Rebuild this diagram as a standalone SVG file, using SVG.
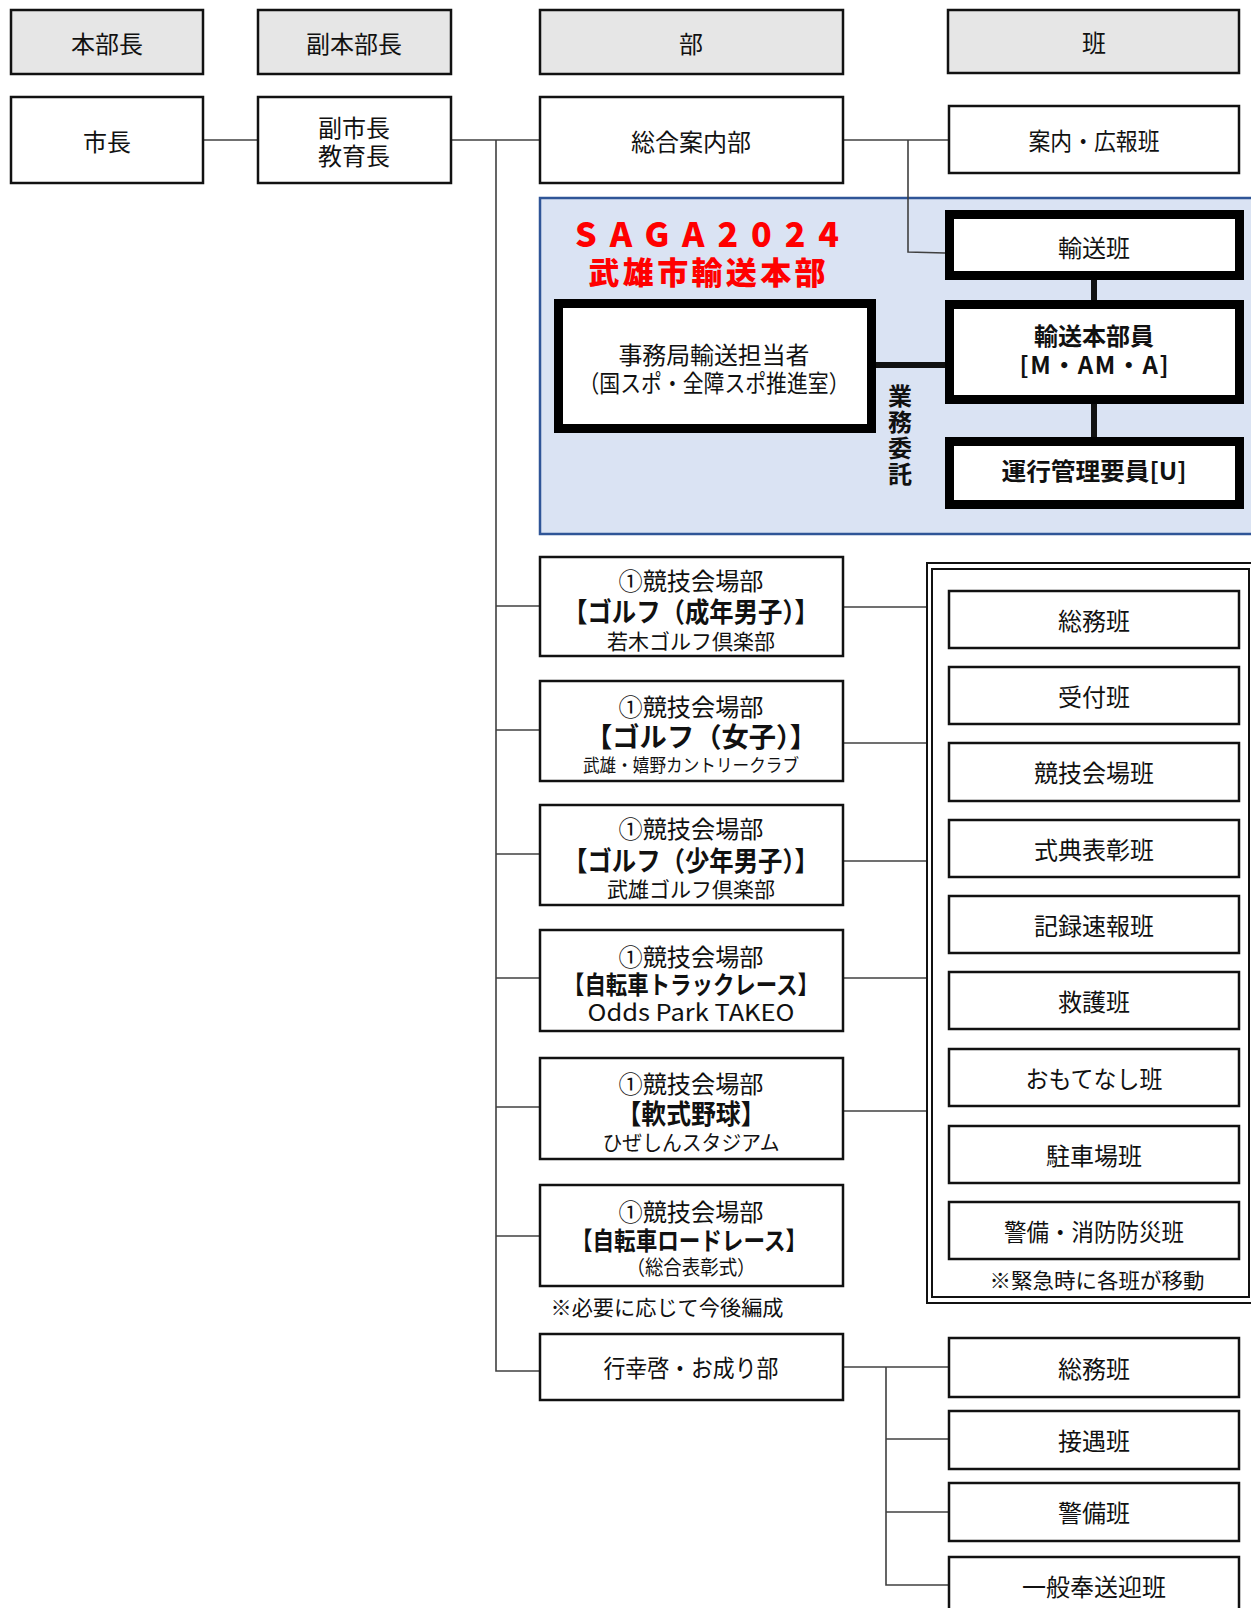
<svg xmlns="http://www.w3.org/2000/svg" width="1251" height="1608" viewBox="0 0 1251 1608">
<style>
text{font-family:"Noto Sans CJK JP","Noto Sans",sans-serif;fill:#111;text-anchor:middle;dominant-baseline:central}
.hd{fill:#e6e6e6;stroke:#111;stroke-width:2.5}
.bx{fill:#fff;stroke:#111;stroke-width:2.5}
.tk{fill:#fff;stroke:#000;stroke-width:9}
.ln{fill:none;stroke:#404040;stroke-width:1.6}
.tl{fill:none;stroke:#111;stroke-width:6}
.t24{font-size:24px}
.t21{font-size:21px}
.b{font-weight:700}
.red{fill:#ff0000;font-weight:900}
</style>
<rect width="1251" height="1608" fill="#fff"/>

<g id="saga-panel">
<rect x="540" y="198" width="730" height="336" fill="#dae3f3" stroke="#2f5597" stroke-width="2.5"/>
</g>

<g id="connectors">
<line class="ln" x1="203" y1="140" x2="258" y2="140"/>
<line class="ln" x1="451" y1="140" x2="540" y2="140"/>
<polyline class="ln" points="496,140 496,1371 540,1371"/>
<line class="ln" x1="496" y1="606" x2="540" y2="606"/>
<line class="ln" x1="496" y1="730" x2="540" y2="730"/>
<line class="ln" x1="496" y1="854" x2="540" y2="854"/>
<line class="ln" x1="496" y1="978" x2="540" y2="978"/>
<line class="ln" x1="496" y1="1107" x2="540" y2="1107"/>
<line class="ln" x1="496" y1="1236" x2="540" y2="1236"/>
<line class="ln" x1="843" y1="140" x2="948" y2="140"/>
<polyline class="ln" points="908,140 908,252 945,253"/>
<line class="ln" x1="843" y1="607" x2="927" y2="607"/>
<line class="ln" x1="843" y1="743" x2="927" y2="743"/>
<line class="ln" x1="843" y1="861" x2="927" y2="861"/>
<line class="ln" x1="843" y1="978" x2="927" y2="978"/>
<line class="ln" x1="843" y1="1111" x2="927" y2="1111"/>
<line class="ln" x1="843" y1="1367" x2="948" y2="1367"/>
<polyline class="ln" points="886,1367 886,1585 948,1585"/>
<line class="ln" x1="886" y1="1439" x2="948" y2="1439"/>
<line class="ln" x1="886" y1="1512" x2="948" y2="1512"/>
<line class="tl" x1="1094" y1="280" x2="1094" y2="300"/>
<line class="tl" x1="1094" y1="404" x2="1094" y2="437"/>
<line class="tl" x1="876" y1="365" x2="945" y2="365"/>
</g>

<g id="headers">
<g id="h-honbucho"><rect class="hd" x="11" y="10" width="192" height="64"/><text class="t24" x="107" y="42">本部長</text></g>
<g id="h-fukuhonbucho"><rect class="hd" x="258" y="10" width="193" height="64"/><text class="t24" x="354" y="42">副本部長</text></g>
<g id="h-bu"><rect class="hd" x="540" y="10" width="303" height="64"/><text class="t24" x="691" y="42">部</text></g>
<g id="h-han"><rect class="hd" x="948" y="10" width="291" height="63"/><text class="t24" x="1094" y="41">班</text></g>
</g>

<g id="n-shicho"><rect class="bx" x="11" y="97" width="192" height="86"/><text class="t24" x="107" y="140">市長</text></g>
<g id="n-fukushicho"><rect class="bx" x="258" y="97" width="193" height="86"/><text class="t24" x="354" y="126">副市長</text><text class="t24" x="354" y="154">教育長</text></g>
<g id="n-sogo"><rect class="bx" x="540" y="97" width="303" height="86"/><text class="t24" x="691" y="140">総合案内部</text></g>
<g id="n-annai"><rect class="bx" x="949" y="106" width="290" height="67"/><text class="t24" x="1094" y="139" textLength="131" lengthAdjust="spacingAndGlyphs">案内・広報班</text></g>

<g id="saga-group">
<text class="red" x="707" y="232" font-size="34" textLength="264" lengthAdjust="spacing">SAGA2024</text>
<text class="red" x="707" y="270" font-size="31" textLength="237" lengthAdjust="spacing">武雄市輸送本部</text>
<g id="n-yuso"><rect class="tk" x="949.5" y="214.5" width="290" height="61"/><text class="t24" x="1094" y="246">輸送班</text></g>
<g id="n-honbuin"><rect class="tk" x="949.5" y="304.5" width="290" height="95"/><text class="t24 b" x="1094" y="334">輸送本部員</text><text class="t24 b" x="1094" y="363" textLength="149" lengthAdjust="spacing">[M・AM・A]</text></g>
<g id="n-unko"><rect class="tk" x="949.5" y="441.5" width="290" height="63"/><text class="t24 b" x="1094" y="469" textLength="185" lengthAdjust="spacingAndGlyphs">運行管理要員[U]</text></g>
<g id="n-jimu"><rect class="tk" x="558.5" y="303.5" width="313" height="125"/><text class="t24" x="714" y="353" textLength="191" lengthAdjust="spacingAndGlyphs">事務局輸送担当者</text><text class="t24" x="714" y="381" textLength="271" lengthAdjust="spacingAndGlyphs">（国スポ・全障スポ推進室）</text></g>
<text class="b" font-size="24" x="900" y="435" writing-mode="vertical-rl" style="writing-mode:vertical-rl" textLength="102" lengthAdjust="spacing">業務委託</text>
</g>

<g id="n-v1"><rect class="bx" x="540" y="557" width="303" height="99"/>
<text class="t24" x="691" y="579" textLength="145" lengthAdjust="spacingAndGlyphs">①競技会場部</text>
<text class="b" font-size="27" x="691" y="610" textLength="256" lengthAdjust="spacingAndGlyphs">【ゴルフ（成年男子）】</text>
<text class="t21" x="691" y="640" textLength="168" lengthAdjust="spacingAndGlyphs">若木ゴルフ倶楽部</text></g>
<g id="n-v2"><rect class="bx" x="540" y="681" width="303" height="100"/>
<text class="t24" x="691" y="705" textLength="145" lengthAdjust="spacingAndGlyphs">①競技会場部</text>
<text class="b" font-size="27" x="701" y="735" textLength="232" lengthAdjust="spacingAndGlyphs">【ゴルフ（女子）】</text>
<text x="691" y="764" font-size="18" textLength="216" lengthAdjust="spacingAndGlyphs">武雄・嬉野カントリークラブ</text></g>
<g id="n-v3"><rect class="bx" x="540" y="805" width="303" height="100"/>
<text class="t24" x="691" y="827" textLength="145" lengthAdjust="spacingAndGlyphs">①競技会場部</text>
<text class="b" font-size="27" x="691" y="859" textLength="256" lengthAdjust="spacingAndGlyphs">【ゴルフ（少年男子）】</text>
<text class="t21" x="691" y="888" textLength="168" lengthAdjust="spacingAndGlyphs">武雄ゴルフ倶楽部</text></g>
<g id="n-v4"><rect class="bx" x="540" y="930" width="303" height="101"/>
<text class="t24" x="691" y="955" textLength="145" lengthAdjust="spacingAndGlyphs">①競技会場部</text>
<text class="b" font-size="25" x="691" y="983" textLength="256" lengthAdjust="spacingAndGlyphs">【自転車トラックレース】</text>
<text x="691" y="1011" font-size="23" font-family="Noto Sans, sans-serif" textLength="207" lengthAdjust="spacingAndGlyphs">Odds Park TAKEO</text></g>
<g id="n-v5"><rect class="bx" x="540" y="1058" width="303" height="101"/>
<text class="t24" x="691" y="1082" textLength="145" lengthAdjust="spacingAndGlyphs">①競技会場部</text>
<text class="b" font-size="27" x="691" y="1112" textLength="149" lengthAdjust="spacingAndGlyphs">【軟式野球】</text>
<text class="t21" x="691" y="1141" textLength="177" lengthAdjust="spacingAndGlyphs">ひぜしんスタジアム</text></g>
<g id="n-v6"><rect class="bx" x="540" y="1185" width="303" height="101"/>
<text class="t24" x="691" y="1210" textLength="145" lengthAdjust="spacingAndGlyphs">①競技会場部</text>
<text class="b" font-size="25" x="689" y="1239" textLength="236" lengthAdjust="spacingAndGlyphs">【自転車ロードレース】</text>
<text x="691" y="1266" font-size="20" textLength="129" lengthAdjust="spacingAndGlyphs">（総合表彰式）</text></g>
<text class="t21" x="667" y="1306" textLength="233" lengthAdjust="spacingAndGlyphs">※必要に応じて今後編成</text>

<g id="venue-han">
<rect x="927" y="563" width="340" height="740" fill="#fff" stroke="#111" stroke-width="2"/>
<rect x="932" y="569" width="317" height="728" fill="none" stroke="#111" stroke-width="2"/>
<g id="n-h1"><rect class="bx" x="949" y="591" width="290" height="57"/><text class="t24" x="1094" y="619">総務班</text></g>
<g id="n-h2"><rect class="bx" x="949" y="667" width="290" height="57"/><text class="t24" x="1094" y="695">受付班</text></g>
<g id="n-h3"><rect class="bx" x="949" y="743" width="290" height="58"/><text class="t24" x="1094" y="771">競技会場班</text></g>
<g id="n-h4"><rect class="bx" x="949" y="820" width="290" height="57"/><text class="t24" x="1094" y="848">式典表彰班</text></g>
<g id="n-h5"><rect class="bx" x="949" y="896" width="290" height="57"/><text class="t24" x="1094" y="924">記録速報班</text></g>
<g id="n-h6"><rect class="bx" x="949" y="972" width="290" height="57"/><text class="t24" x="1094" y="1000">救護班</text></g>
<g id="n-h7"><rect class="bx" x="949" y="1049" width="290" height="57"/><text class="t24" x="1094" y="1077" textLength="137" lengthAdjust="spacingAndGlyphs">おもてなし班</text></g>
<g id="n-h8"><rect class="bx" x="949" y="1126" width="290" height="57"/><text class="t24" x="1094" y="1154">駐車場班</text></g>
<g id="n-h9"><rect class="bx" x="949" y="1202" width="290" height="57"/><text class="t24" x="1094" y="1230" textLength="180" lengthAdjust="spacingAndGlyphs">警備・消防防災班</text></g>
<text class="t21" x="1097" y="1279" textLength="215" lengthAdjust="spacingAndGlyphs">※緊急時に各班が移動</text>
</g>

<g id="n-gyoko"><rect class="bx" x="540" y="1334" width="303" height="66"/><text class="t24" x="691" y="1366" textLength="175" lengthAdjust="spacingAndGlyphs">行幸啓・お成り部</text></g>
<g id="n-g1"><rect class="bx" x="949" y="1338" width="290" height="59"/><text class="t24" x="1094" y="1367">総務班</text></g>
<g id="n-g2"><rect class="bx" x="949" y="1411" width="290" height="58"/><text class="t24" x="1094" y="1439">接遇班</text></g>
<g id="n-g3"><rect class="bx" x="949" y="1483" width="290" height="58"/><text class="t24" x="1094" y="1511">警備班</text></g>
<g id="n-g4"><rect class="bx" x="949" y="1557" width="290" height="60"/><text class="t24" x="1094" y="1585">一般奉送迎班</text></g>
</svg>
